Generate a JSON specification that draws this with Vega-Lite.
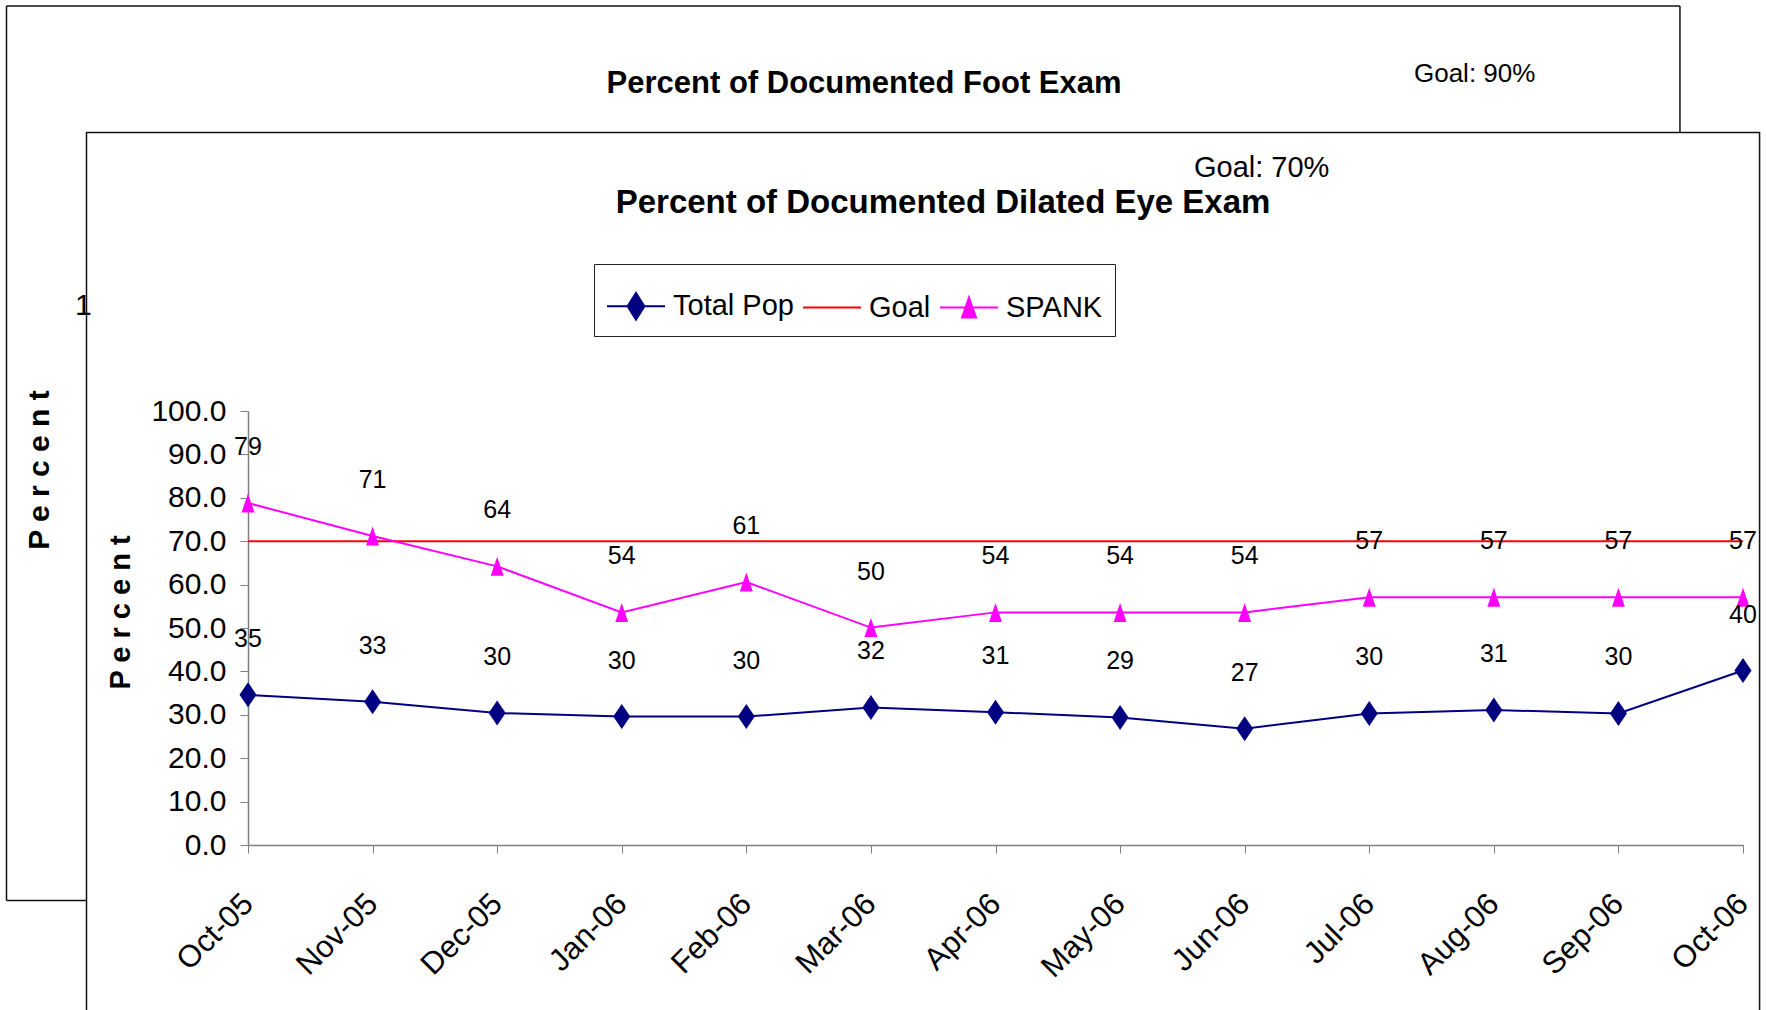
{
  "$schema": "https://vega.github.io/schema/vega-lite/v6.json",
  "width": 1495,
  "height": 434,
  "autosize": {"type": "none"},
  "padding": {"left": 248, "top": 411, "right": 23, "bottom": 165},
  "background": "white",
  "config": {
    "view": {"stroke": null},
    "font": "Liberation Sans"
  },
  "data": {
    "values": [
      {"month": "Oct-05", "i": 0, "series": "Total Pop", "value": 34.6},
      {"month": "Nov-05", "i": 1, "series": "Total Pop", "value": 33.0},
      {"month": "Dec-05", "i": 2, "series": "Total Pop", "value": 30.4},
      {"month": "Jan-06", "i": 3, "series": "Total Pop", "value": 29.6},
      {"month": "Feb-06", "i": 4, "series": "Total Pop", "value": 29.6},
      {"month": "Mar-06", "i": 5, "series": "Total Pop", "value": 31.7},
      {"month": "Apr-06", "i": 6, "series": "Total Pop", "value": 30.6},
      {"month": "May-06", "i": 7, "series": "Total Pop", "value": 29.4},
      {"month": "Jun-06", "i": 8, "series": "Total Pop", "value": 26.8},
      {"month": "Jul-06", "i": 9, "series": "Total Pop", "value": 30.3},
      {"month": "Aug-06", "i": 10, "series": "Total Pop", "value": 31.1},
      {"month": "Sep-06", "i": 11, "series": "Total Pop", "value": 30.3},
      {"month": "Oct-06", "i": 12, "series": "Total Pop", "value": 40.2},
      {"month": "Oct-05", "i": 0, "series": "Goal", "value": 70},
      {"month": "Nov-05", "i": 1, "series": "Goal", "value": 70},
      {"month": "Dec-05", "i": 2, "series": "Goal", "value": 70},
      {"month": "Jan-06", "i": 3, "series": "Goal", "value": 70},
      {"month": "Feb-06", "i": 4, "series": "Goal", "value": 70},
      {"month": "Mar-06", "i": 5, "series": "Goal", "value": 70},
      {"month": "Apr-06", "i": 6, "series": "Goal", "value": 70},
      {"month": "May-06", "i": 7, "series": "Goal", "value": 70},
      {"month": "Jun-06", "i": 8, "series": "Goal", "value": 70},
      {"month": "Jul-06", "i": 9, "series": "Goal", "value": 70},
      {"month": "Aug-06", "i": 10, "series": "Goal", "value": 70},
      {"month": "Sep-06", "i": 11, "series": "Goal", "value": 70},
      {"month": "Oct-06", "i": 12, "series": "Goal", "value": 70},
      {"month": "Oct-05", "i": 0, "series": "SPANK", "value": 78.8},
      {"month": "Nov-05", "i": 1, "series": "SPANK", "value": 71.2},
      {"month": "Dec-05", "i": 2, "series": "SPANK", "value": 64.2},
      {"month": "Jan-06", "i": 3, "series": "SPANK", "value": 53.6},
      {"month": "Feb-06", "i": 4, "series": "SPANK", "value": 60.6},
      {"month": "Mar-06", "i": 5, "series": "SPANK", "value": 50.1},
      {"month": "Apr-06", "i": 6, "series": "SPANK", "value": 53.6},
      {"month": "May-06", "i": 7, "series": "SPANK", "value": 53.6},
      {"month": "Jun-06", "i": 8, "series": "SPANK", "value": 53.6},
      {"month": "Jul-06", "i": 9, "series": "SPANK", "value": 57.1},
      {"month": "Aug-06", "i": 10, "series": "SPANK", "value": 57.1},
      {"month": "Sep-06", "i": 11, "series": "SPANK", "value": 57.1},
      {"month": "Oct-06", "i": 12, "series": "SPANK", "value": 57.1}
    ]
  },
  "layer": [
    {
      "transform": [{"filter": "datum.series === 'Goal'"}],
      "mark": {"type": "line", "strokeWidth": 2, "color": "#FF0000", "clip": false},
      "encoding": {
        "x": {
          "field": "i",
          "type": "quantitative",
          "scale": {"domain": [0, 12], "nice": false, "zero": false},
          "axis": {
            "values": [0, 1, 2, 3, 4, 5, 6, 7, 8, 9, 10, 11, 12],
            "labelExpr": "['Oct-05','Nov-05','Dec-05','Jan-06','Feb-06','Mar-06','Apr-06','May-06','Jun-06','Jul-06','Aug-06','Sep-06','Oct-06'][datum.value]",
            "title": null,
            "grid": false,
            "labelAngle": -45,
            "labelAlign": "right",
            "labelBaseline": "middle",
            "labelFlush": false,
            "labelOverlap": false,
            "labelFont": "Liberation Sans",
            "labelFontSize": 31,
            "labelColor": "black",
            "labelPadding": 46,
            "tickSize": 8,
            "tickColor": "#808080",
            "domainColor": "#808080",
            "domainWidth": 1.5
          }
        },
        "y": {
          "field": "value",
          "type": "quantitative",
          "scale": {"domain": [0, 100], "nice": false},
          "axis": {
            "values": [0, 10, 20, 30, 40, 50, 60, 70, 80, 90, 100],
            "format": ".1f",
            "grid": false,
            "labelOverlap": false,
            "labelFlush": false,
            "labelFont": "Liberation Sans",
            "labelFontSize": 30,
            "labelColor": "black",
            "labelPadding": 14,
            "tickSize": 8,
            "tickColor": "#808080",
            "domainColor": "#808080",
            "domainWidth": 1.5,
            "title": "P e r c e n t",
            "titleFont": "Liberation Sans",
            "titleFontWeight": "bold",
            "titleFontSize": 29,
            "titleColor": "black",
            "titleAngle": 270,
            "titleAlign": "center",
            "titleBaseline": "middle",
            "titleX": -128,
            "titleY": 201
          }
        }
      }
    },
    {
      "transform": [{"filter": "datum.series === 'Total Pop'"}],
      "mark": {"type": "line", "strokeWidth": 2, "color": "#000080", "clip": false},
      "encoding": {
        "x": {"field": "i", "type": "quantitative"},
        "y": {"field": "value", "type": "quantitative"}
      }
    },
    {
      "transform": [{"filter": "datum.series === 'SPANK'"}],
      "mark": {"type": "line", "strokeWidth": 2, "color": "#FF00FF", "clip": false},
      "encoding": {
        "x": {"field": "i", "type": "quantitative"},
        "y": {"field": "value", "type": "quantitative"}
      }
    },
    {
      "data": {"values": [{}]},
      "mark": {"type": "rule", "stroke": "#111111", "strokeWidth": 1.5, "clip": false},
      "encoding": {
        "x": {"datum": -1.9385, "type": "quantitative"},
        "x2": {"datum": 11.494},
        "y": {"datum": 193.3, "type": "quantitative"}
      }
    },
    {
      "data": {"values": [{}]},
      "mark": {"type": "rule", "stroke": "#111111", "strokeWidth": 1.5, "clip": false},
      "encoding": {
        "x": {"datum": -1.9385, "type": "quantitative"},
        "y": {"datum": 193.3, "type": "quantitative"},
        "y2": {"datum": -12.79}
      }
    },
    {
      "data": {"values": [{}]},
      "mark": {"type": "rule", "stroke": "#111111", "strokeWidth": 1.5, "clip": false},
      "encoding": {
        "x": {"datum": -1.9385, "type": "quantitative"},
        "x2": {"datum": -1.2963},
        "y": {"datum": -12.79, "type": "quantitative"}
      }
    },
    {
      "data": {"values": [{}]},
      "mark": {"type": "rule", "stroke": "#111111", "strokeWidth": 1.5, "clip": false},
      "encoding": {
        "x": {"datum": 11.494, "type": "quantitative"},
        "y": {"datum": 193.3, "type": "quantitative"},
        "y2": {"datum": 164.17}
      }
    },
    {
      "data": {"values": [{}]},
      "mark": {"type": "rect", "filled": false, "stroke": "#111111", "strokeWidth": 1.5, "clip": false},
      "encoding": {
        "x": {"datum": -1.2963, "type": "quantitative"},
        "x2": {"datum": 12.133},
        "y": {"datum": 164.17, "type": "quantitative"},
        "y2": {"datum": -45}
      }
    },
    {
      "data": {"values": [{}]},
      "mark": {"type": "text", "text": "Percent of Documented Foot Exam", "font": "Liberation Sans", "fontWeight": "bold", "fontSize": 31, "align": "center", "baseline": "alphabetic", "color": "black", "clip": false},
      "encoding": {
        "x": {"datum": 4.945, "type": "quantitative"},
        "y": {"datum": 173.3, "type": "quantitative"}
      }
    },
    {
      "data": {"values": [{}]},
      "mark": {"type": "text", "text": "Goal: 90%", "font": "Liberation Sans", "fontSize": 26, "align": "left", "baseline": "alphabetic", "color": "black", "clip": false},
      "encoding": {
        "x": {"datum": 9.359, "type": "quantitative"},
        "y": {"datum": 175.8, "type": "quantitative"}
      }
    },
    {
      "data": {"values": [{}]},
      "mark": {"type": "text", "text": "P e r c e n t", "font": "Liberation Sans", "fontWeight": "bold", "fontSize": 30, "angle": 270, "align": "center", "baseline": "middle", "color": "black", "clip": false},
      "encoding": {
        "x": {"datum": -1.6656, "type": "quantitative"},
        "y": {"datum": 86.4, "type": "quantitative"}
      }
    },
    {
      "data": {"values": [{}]},
      "mark": {"type": "text", "text": "1", "font": "Liberation Sans", "fontSize": 30, "align": "left", "baseline": "alphabetic", "color": "black", "clip": false},
      "encoding": {
        "x": {"datum": -1.389, "type": "quantitative"},
        "y": {"datum": 122.1, "type": "quantitative"}
      }
    },
    {
      "data": {"values": [{}]},
      "mark": {"type": "text", "text": "Goal: 70%", "font": "Liberation Sans", "fontSize": 29, "align": "left", "baseline": "alphabetic", "color": "black", "clip": false},
      "encoding": {
        "x": {"datum": 7.593, "type": "quantitative"},
        "y": {"datum": 153.9, "type": "quantitative"}
      }
    },
    {
      "data": {"values": [{}]},
      "mark": {"type": "text", "text": "Percent of Documented Dilated Eye Exam", "font": "Liberation Sans", "fontWeight": "bold", "fontSize": 33, "align": "center", "baseline": "alphabetic", "color": "black", "clip": false},
      "encoding": {
        "x": {"datum": 5.579, "type": "quantitative"},
        "y": {"datum": 145.6, "type": "quantitative"}
      }
    },
    {
      "transform": [{"filter": "datum.series === 'Total Pop'"}],
      "mark": {"type": "point", "filled": true, "opacity": 1, "color": "#000080", "shape": "M0,-1L0.68,0L0,1L-0.68,0Z", "size": 625, "clip": false},
      "encoding": {
        "x": {"field": "i", "type": "quantitative"},
        "y": {"field": "value", "type": "quantitative"}
      }
    },
    {
      "transform": [{"filter": "datum.series === 'SPANK'"}],
      "mark": {"type": "point", "filled": true, "opacity": 1, "color": "#FF00FF", "shape": "M0,-1L0.68,1L-0.68,1Z", "size": 361, "clip": false},
      "encoding": {
        "x": {"field": "i", "type": "quantitative"},
        "y": {"field": "value", "type": "quantitative"}
      }
    },
    {
      "transform": [{"filter": "datum.series !== 'Goal'"}],
      "mark": {"type": "text", "font": "Liberation Sans", "fontSize": 25, "color": "black", "align": "center", "baseline": "middle", "dy": -56, "clip": false},
      "encoding": {
        "x": {"field": "i", "type": "quantitative"},
        "y": {"field": "value", "type": "quantitative"},
        "text": {"field": "value", "type": "quantitative", "format": ".0f"}
      }
    },
    {
      "transform": [{"filter": "false"}],
      "mark": {"type": "point", "filled": true, "opacity": 1, "strokeWidth": 2},
      "encoding": {
        "color": {
          "field": "series",
          "type": "nominal",
          "scale": {"domain": ["Total Pop", "Goal", "SPANK"], "range": ["#000080", "#FF0000", "#FF00FF"]},
          "legend": {
            "orient": "none",
            "legendX": 346,
            "legendY": -147,
            "direction": "horizontal",
            "title": null,
            "zindex": 2,
            "strokeColor": "#222222",
            "fillColor": "white",
            "padding": 12,
            "labelFont": "Liberation Sans",
            "labelFontSize": 29,
            "labelColor": "black",
            "labelOffset": 7,
            "labelLimit": 0,
            "columnPadding": 5,
            "symbolSize": 3364,
            "symbolStrokeWidth": 2,
            "symbolOpacity": 1
          }
        },
        "stroke": {
          "field": "series",
          "type": "nominal",
          "scale": {"domain": ["Total Pop", "Goal", "SPANK"], "range": ["#000080", "#FF0000", "#FF00FF"]}
        },
        "shape": {
          "field": "series",
          "type": "nominal",
          "scale": {
            "domain": ["Total Pop", "Goal", "SPANK"],
            "range": [
              "M-1,0H1M0,-0.46L0.29,0L0,0.46L-0.29,0Z",
              "M-1,0H1",
              "M-1,0H1M0,-0.345L0.24,0.345L-0.24,0.345Z"
            ]
          }
        }
      }
    }
  ]
}
